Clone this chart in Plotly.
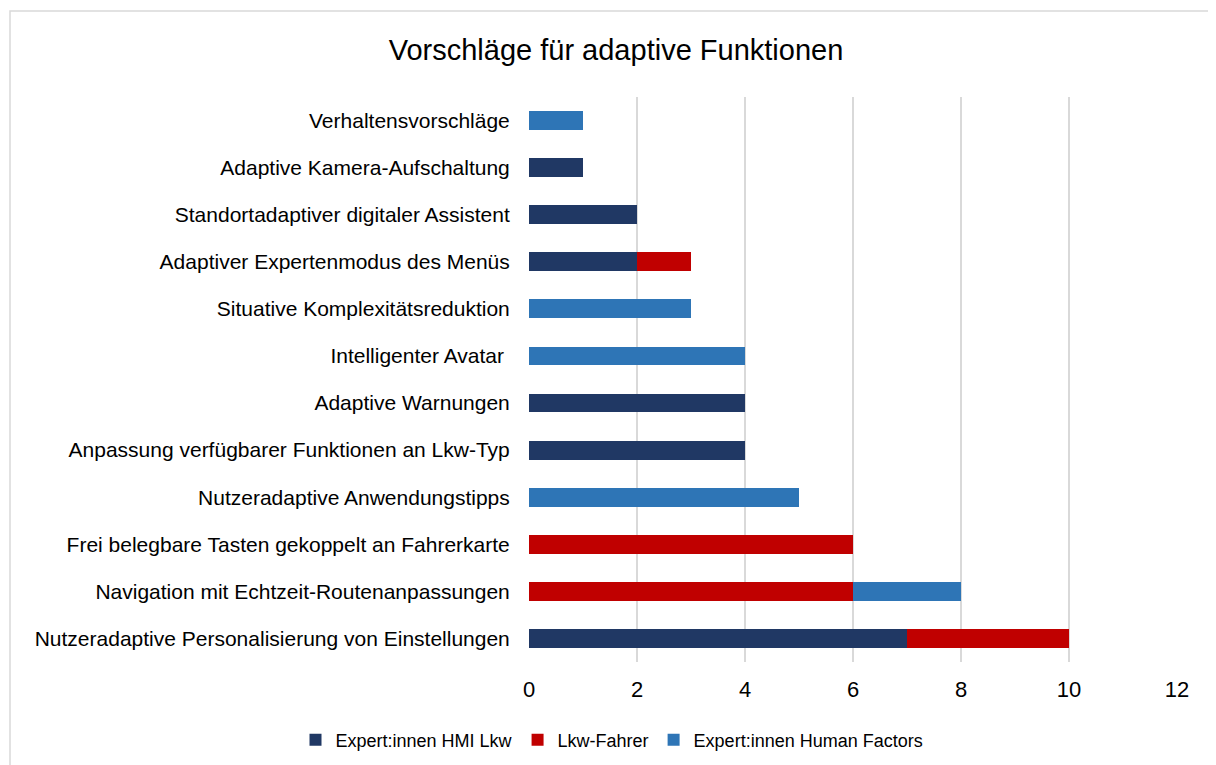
import plotly.graph_objects as go

categories = [
    "Verhaltensvorschläge",
    "Adaptive Kamera-Aufschaltung",
    "Standortadaptiver digitaler Assistent",
    "Adaptiver Expertenmodus des Menüs",
    "Situative Komplexitätsreduktion",
    "Intelligenter Avatar\u00a0",
    "Adaptive Warnungen",
    "Anpassung verfügbarer Funktionen an Lkw-Typ",
    "Nutzeradaptive Anwendungstipps",
    "Frei belegbare Tasten gekoppelt an Fahrerkarte",
    "Navigation mit Echtzeit-Routenanpassungen",
    "Nutzeradaptive Personalisierung von Einstellungen",
]
hmi = [0, 1, 2, 2, 0, 0, 4, 4, 0, 0, 0, 7]
lkw = [0, 0, 0, 1, 0, 0, 0, 0, 0, 6, 6, 3]
hf = [1, 0, 0, 0, 3, 4, 0, 0, 5, 0, 2, 0]
series_names = ["Expert:innen HMI Lkw", "Lkw-Fahrer", "Expert:innen Human Factors"]
x_ticks = [0, 2, 4, 6, 8, 10, 12]

colors = ["#203864", "#C00000", "#2E75B6"]
font_family = "Liberation Sans, Arial, sans-serif"

# figure is placed 8px in from the page corner (body margin)
W, H = 1208, 757
L, R, T, B = 521, 39, 89, 103
pw, ph = W - L - R, H - T - B


def px_x(x):
    return (x - L) / pw


def px_y(y):
    return (H - B - y) / ph


fig = go.Figure()
for name, vals, col in zip(series_names, [hmi, lkw, hf], colors):
    fig.add_trace(go.Bar(
        y=categories, x=vals, name=name, orientation="h",
        marker=dict(color=col, line=dict(width=0)),
        width=0.4,
    ))

fig.update_layout(
    barmode="stack",
    width=W, height=H,
    margin=dict(l=L, r=R, t=T, b=B, autoexpand=False),
    paper_bgcolor="white", plot_bgcolor="white",
    font=dict(family=font_family, color="#000000"),
    title=dict(text="Vorschläge für adaptive Funktionen", x=608 / W, xref="container",
               y=1 - 42 / H, yref="container", xanchor="center", yanchor="middle",
               font=dict(size=29, family=font_family, color="#000000")),
    legend=dict(orientation="h", x=px_x(604), xanchor="center",
                y=1 - 732 / H, yref="container", yanchor="middle",
                font=dict(size=18, family=font_family), traceorder="normal",
                itemwidth=30),
    xaxis=dict(range=[0, 12], tickvals=x_ticks, showgrid=True, gridcolor="#d9d9d9",
               gridwidth=1.5, zeroline=False, showline=False,
               ticks="outside", ticklen=8, tickcolor="rgba(0,0,0,0)",
               tickfont=dict(size=22, family=font_family, color="#000000")),
    yaxis=dict(autorange="reversed", showgrid=False, zeroline=False, showline=False,
               ticks="outside", ticklen=14, tickcolor="rgba(0,0,0,0)",
               tickfont=dict(size=21, family=font_family, color="#000000")),
    shapes=[dict(type="rect", xref="paper", yref="paper",
                 x0=px_x(2), x1=px_x(1215),
                 y0=px_y(770), y1=px_y(3),
                 line=dict(color="#d9d9d9", width=1.5), fillcolor="rgba(0,0,0,0)",
                 layer="below")],
)

fig.write_html("out.html")
